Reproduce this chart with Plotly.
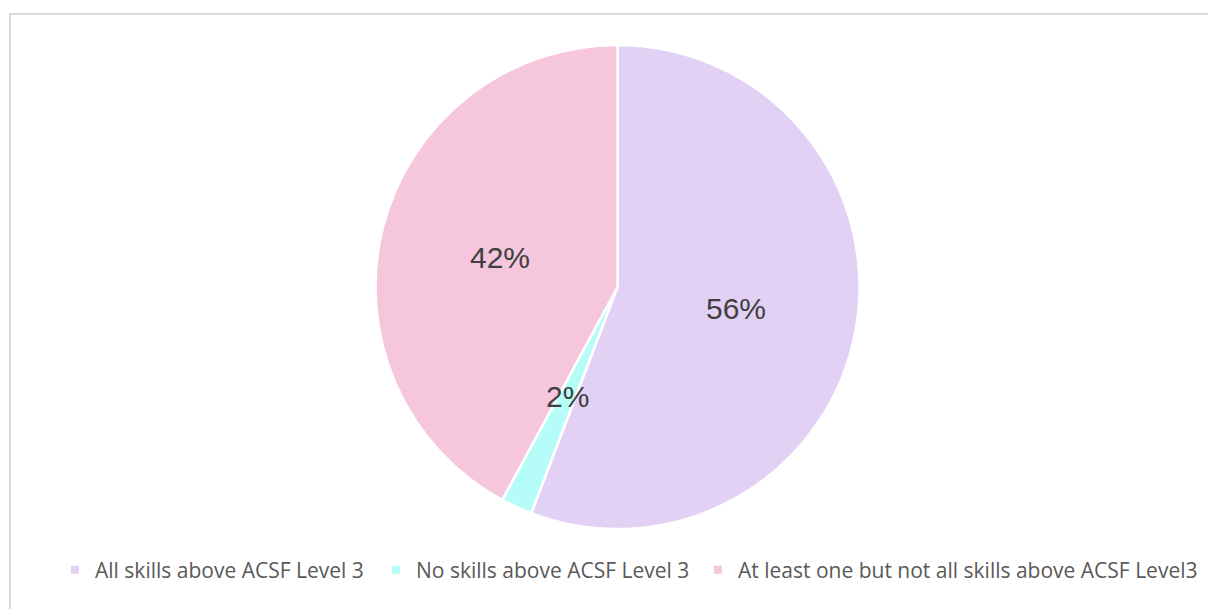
import math
import plotly.graph_objects as go

# Share of learners by ACSF Level 3 skill attainment
categories = [
    "All skills above ACSF Level 3",
    "No skills above ACSF Level 3",
    "At least one but not all skills above ACSF Level3",
]
shares = [55.8, 2.1, 42.1]
colors = ["#E2D1F5", "#B6FCF8", "#F5C6DC"]

W, H = 1208, 609
# pie geometry in pixels
cx_px, cy_px, r_px = 617.5, 287.0, 242.0

fig = go.Figure()

fig.add_trace(go.Pie(
    labels=categories,
    values=shares,
    sort=False,
    direction="clockwise",
    rotation=0,
    marker=dict(colors=colors, line=dict(color="white", width=2.5)),
    textinfo="none",
    hoverinfo="label+percent",
    showlegend=False,
    domain=dict(
        x=[(cx_px - r_px) / W, (cx_px + r_px) / W],
        y=[1 - (cy_px + r_px) / H, 1 - (cy_px - r_px) / H],
    ),
))

# legend entries with small square keys; the last entry sits in its own
# legend box so the fixed-width entries do not clip its long label
legend_ids = ["legend", "legend", "legend2"]
for name, col, lg in zip(categories, colors, legend_ids):
    fig.add_trace(go.Scatter(
        x=[None], y=[None], mode="markers", name=name,
        marker=dict(symbol="square", size=8, color=col),
        hoverinfo="skip", legend=lg,
    ))

# percentage labels placed at half radius along each slice's mid-angle
total = sum(shares)
cum = 0.0
annotations = []
for v in shares:
    mid = (cum + v / 2) / total * 2 * math.pi
    cum += v
    px = cx_px + 0.5 * r_px * math.sin(mid)
    py = cy_px - 0.5 * r_px * math.cos(mid)
    annotations.append(dict(
        x=px / W, y=1 - py / H, xref="paper", yref="paper",
        text=f"{round(v / total * 100)}%", showarrow=False,
        font=dict(family="Liberation Sans, Arial", size=30, color="#404040"),
        xanchor="center", yanchor="middle",
    ))

legend_font = dict(family="Open Sans, Noto Sans", size=21, color="#595959")

fig.update_layout(
    width=W, height=H,
    margin=dict(l=0, r=0, t=0, b=0),
    paper_bgcolor="white",
    plot_bgcolor="white",
    xaxis=dict(visible=False),
    yaxis=dict(visible=False),
    annotations=annotations,
    shapes=[dict(
        type="rect", xref="paper", yref="paper",
        x0=10 / W, x1=1.02, y0=-0.02, y1=1 - 14 / H,
        line=dict(color="#D9D9D9", width=2), fillcolor="rgba(0,0,0,0)",
        layer="below",
    )],
    legend=dict(
        orientation="h",
        x=55 / W, xanchor="left",
        y=1 - 570 / H, yanchor="middle",
        font=legend_font,
        bgcolor="rgba(0,0,0,0)",
        entrywidth=276, entrywidthmode="pixels",
        itemclick=False, itemdoubleclick=False,
    ),
    legend2=dict(
        orientation="h",
        x=698 / W, xanchor="left",
        y=1 - 570 / H, yanchor="middle",
        font=legend_font,
        bgcolor="rgba(0,0,0,0)",
        itemclick=False, itemdoubleclick=False,
    ),
)

fig.write_html("out.html")
